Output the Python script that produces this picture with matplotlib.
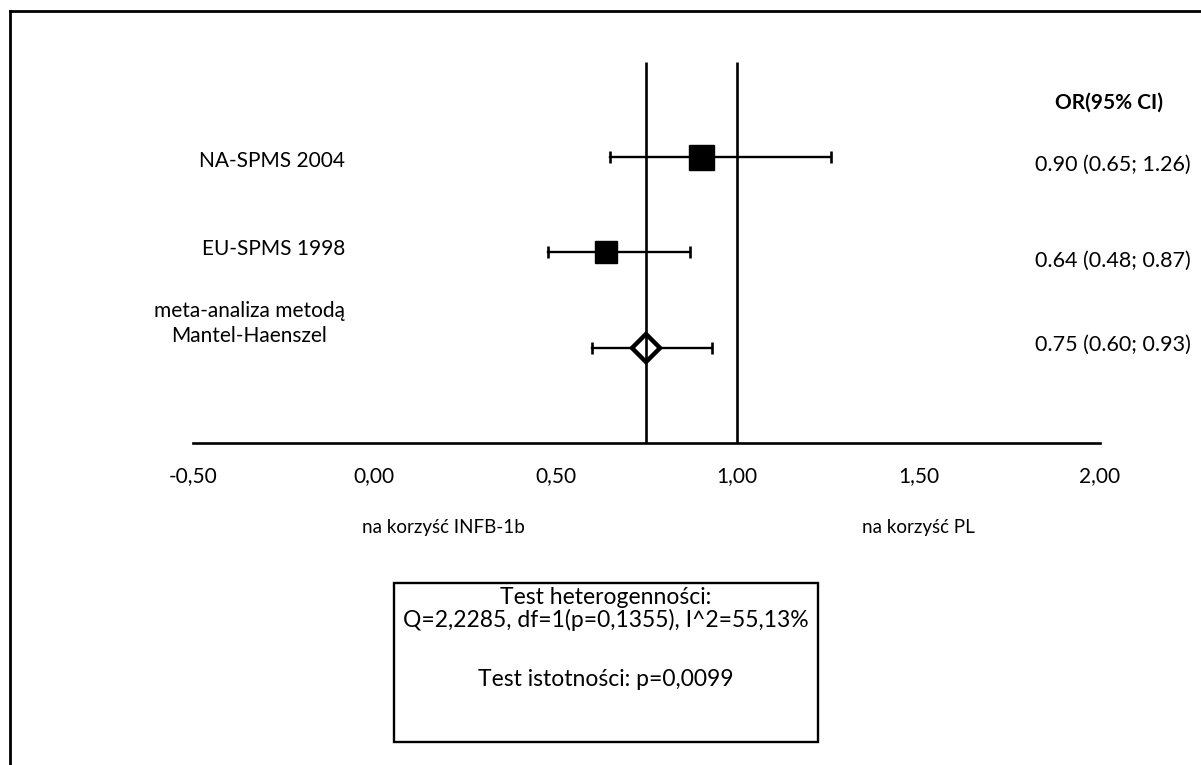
import matplotlib
matplotlib.use("Agg")
import matplotlib.pyplot as plt
from matplotlib.lines import Line2D
from matplotlib.patches import Rectangle

plt.rcParams['font.family'] = ['Lato', 'DejaVu Sans']

# Study data
studies = ["NA-SPMS 2004", "EU-SPMS 1998", "meta-analiza metodą\nMantel-Haenszel"]
odds_ratio = [0.90, 0.64, 0.75]
ci_low = [0.65, 0.48, 0.60]
ci_high = [1.26, 0.87, 0.93]
or_labels = ["0.90 (0.65; 1.26)", "0.64 (0.48; 0.87)", "0.75 (0.60; 0.93)"]
marker_sizes = [18, 16.5]          # study weights (points)
ref_lines = [0.75, 1.00]
x_ticks = [-0.50, 0.00, 0.50, 1.00, 1.50, 2.00]
x_tick_labels = ["-0,50", "0,00", "0,50", "1,00", "1,50", "2,00"]
side_labels = ["na korzyść INFB-1b", "na korzyść PL"]
side_label_x = [0.19, 1.50]
header = "OR(95% CI)"
stats_lines = ["Test heterogenności:",
               "Q=2,2285, df=1(p=0,1355), I^2=55,13%",
               "",
               "Test istotności: p=0,0099"]

W, H = 1201, 765
fig = plt.figure(figsize=(W / 100, H / 100), dpi=100)
fig.patch.set_facecolor("white")


def fx(px):
    return px / W


def fy(py):
    return 1 - py / H


# Axes area in pixel coordinates (left, top, right, bottom)
L, T, R, B = 192.7, 62.0, 1100.0, 442.7
PX_PER_UNIT = (R - L) / 2.5
PX_PER_ROW = (B - T) / 4.0
ax = fig.add_axes([fx(L), fy(B), fx(R) - fx(L), (B - T) / H])
ax.set_xlim(-0.5, 2.0)
ax.set_ylim(0, 4)
ax.set_facecolor("none")
for s in ["top", "right", "left"]:
    ax.spines[s].set_visible(False)
ax.spines["bottom"].set_linewidth(1.9)
ax.set_yticks([])
ax.set_xticks(x_ticks, x_tick_labels)
ax.tick_params(axis="x", length=0, pad=17, labelsize=15)

rows = [3, 2, 1]
fs = 15

# Confidence intervals
for y, lo, hi in zip(rows, ci_low, ci_high):
    ax.plot([lo, hi], [y, y], color="black", lw=1.7, zorder=2)
    for xv in (lo, hi):
        ax.plot([xv], [y], marker="|", ms=8, mew=1.9, color="black", zorder=2)

# Study point estimates
for y, v, ms in zip(rows[:2], odds_ratio[:2], marker_sizes):
    ax.plot([v], [y], marker="s", ms=ms, color="black", zorder=3)

# Pooled estimate
ax.plot([odds_ratio[2]], [rows[2]], marker="D", ms=14, mfc="white",
        mec="black", mew=3.2, zorder=3)

# Reference lines
for xv in ref_lines:
    ax.plot([xv, xv], [0, 4], color="black", lw=1.9, zorder=4,
            solid_capstyle="butt")

# Study labels (left)
label_x = -0.5 + (345 - L) / PX_PER_UNIT
label_dy = [-0.04, 0.03, 0.25]
for y, name, dy in zip(rows, studies, label_dy):
    ax.text(label_x, y + dy, name, ha="right", va="center", multialignment="center",
            fontsize=fs, linespacing=1.3, clip_on=False)

# OR column (right)
ax.text(2.0 + (1109 - R) / PX_PER_UNIT, 4 - (103 - T) / PX_PER_ROW, header,
        ha="center", va="center", fontsize=fs, fontweight="bold", clip_on=False)
right_dy = [-0.08, -0.09, 0.03]
for y, lab, dy in zip(rows, or_labels, right_dy):
    ax.text(2.0 + (1035 - R) / PX_PER_UNIT, y + dy, lab, ha="left", va="center",
            fontsize=fs + 0.5, clip_on=False)

# Direction labels under the axis
for xv, lab in zip(side_label_x, side_labels):
    fig.text(fx(L + (xv + 0.5) * PX_PER_UNIT), fy(528), lab, ha="center",
             va="center", fontsize=13.5)

# Statistics box
bx0, by0, bx1, by1 = 394, 583, 818, 742
fig.patches.append(Rectangle((fx(bx0), fy(by1)), fx(bx1) - fx(bx0), (by1 - by0) / H,
                             transform=fig.transFigure, fill=False, ec="black",
                             lw=1.7))
line_y = [598, 620, 649, 679]
for ly, txt in zip(line_y, stats_lines):
    if txt:
        fig.text(fx((bx0 + bx1) / 2), fy(ly), txt, ha="center", va="center",
                 fontsize=16.5)

# Outer frame
fig.lines.append(Line2D([fx(10), fx(1201)], [fy(11), fy(11)],
                        transform=fig.transFigure, color="black", lw=2))
fig.lines.append(Line2D([fx(10), fx(10)], [fy(11), fy(765)],
                        transform=fig.transFigure, color="black", lw=2))

fig.savefig("out.png", dpi=100, facecolor="white")
